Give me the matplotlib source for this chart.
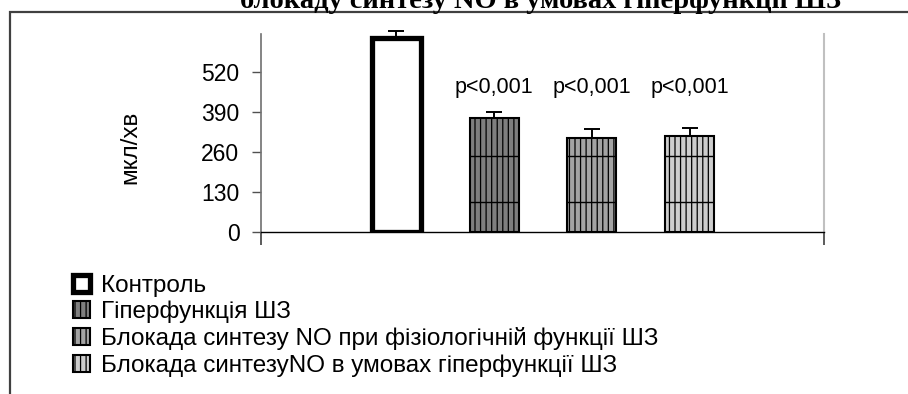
import numpy as np
import matplotlib
matplotlib.use("Agg")
import matplotlib.pyplot as plt
from matplotlib.patches import Rectangle

# Salivary flow, mean and SE
groups = ["Контроль",
          "Гіперфункція ШЗ",
          "Блокада синтезу NO при фізіологічній функції ШЗ",
          "Блокада синтезуNO в умовах гіперфункції ШЗ"]
values = [630, 370, 305, 312]
errors = [22, 20, 30, 26]
p_labels = ["", "p<0,001", "p<0,001", "p<0,001"]
y_ticks = [0, 130, 260, 390, 520]
title = "блокаду синтезу NO в умовах гіперфункції ШЗ"
y_label = "мкл/хв"

plt.rcParams['font.family'] = ['Liberation Sans', 'DejaVu Sans']
plt.rcParams['hatch.linewidth'] = 0.9

W, H = 908, 394
fig = plt.figure(figsize=(W / 100, H / 100), dpi=100)

def fx(px):
    return px / W

def fy(py):
    return 1 - py / H

# chart area border (only top and left edges are in view)
fig.patches.append(Rectangle((fx(10), fy(H + 20)), 1.2, fy(12) - fy(H + 20),
                             transform=fig.transFigure, fill=False,
                             edgecolor='#404040', linewidth=1.6))

# heading above the chart area, cut by the image edge
fig.text(fx(540), fy(7.5), title, ha='center', va='baseline',
         family='Liberation Serif', fontweight='bold', fontsize=20.5)

ax = fig.add_axes([fx(261), fy(232), fx(824) - fx(261), fy(34) - fy(232)])

x = np.arange(len(values))
faces = ['white', '#7f7f7f', '#a4a4a4', '#cdcdcd']
hatches = [None, '|||', '|||', '|||']
edge_w = [3.8, 1.5, 1.5, 1.5]

bars = []
for i in range(len(values)):
    b = ax.bar(x[i], values[i], width=0.5, color=faces[i], edgecolor='black',
               hatch=hatches[i], linewidth=edge_w[i], label=groups[i], zorder=2)
    bars.append(b)

# horizontal rows of the grid fill pattern
pattern_start, pattern_step = 97.5, 149.5
for i in range(1, len(values)):
    rows = np.arange(pattern_start, values[i], pattern_step)
    ax.hlines(rows, x[i] - 0.25, x[i] + 0.25, color='black', linewidth=1.0, zorder=3)

ax.errorbar(x, values, yerr=[np.zeros(len(errors)), errors], fmt='none',
            ecolor='black', elinewidth=1.4, capsize=5.5, capthick=1.4,
            clip_on=False, zorder=4)

for i, lab in enumerate(p_labels):
    if lab:
        ax.text(x[i], 471, lab, ha='center', va='center', fontsize=15.5)

ax.set_xlim(-1.38, 4.37)
ax.set_ylim(0, 643.5)
ax.set_yticks(y_ticks)
ax.set_yticklabels([str(t) for t in y_ticks], fontsize=16.5)
ax.tick_params(axis='y', direction='out', length=6.5, width=1, color='#505050', pad=9)
ax.set_xticks([-1.38, 4.37])
ax.set_xticklabels([])
ax.tick_params(axis='x', direction='out', length=9.5, width=1.2, color='#404040')

ax.spines['top'].set_visible(False)
ax.spines['left'].set_color('#707070')
ax.spines['left'].set_linewidth(1.2)
ax.spines['right'].set_color('#c0c0c0')
ax.spines['right'].set_linewidth(1.5)
ax.spines['bottom'].set_color('black')
ax.spines['bottom'].set_linewidth(1.0)

fig.text(fx(130), fy(147), y_label, rotation=90, ha='center', va='center', fontsize=17.5)

fig.legend(handles=[b[0] for b in bars], labels=groups, loc='upper left',
           bbox_to_anchor=(fx(73), fy(275)), frameon=False, fontsize=17.5,
           handlelength=0.7, handleheight=0.7, handletextpad=0.45,
           labelspacing=0.16, borderpad=0, borderaxespad=0)

fig.savefig("out.png", dpi=100)
